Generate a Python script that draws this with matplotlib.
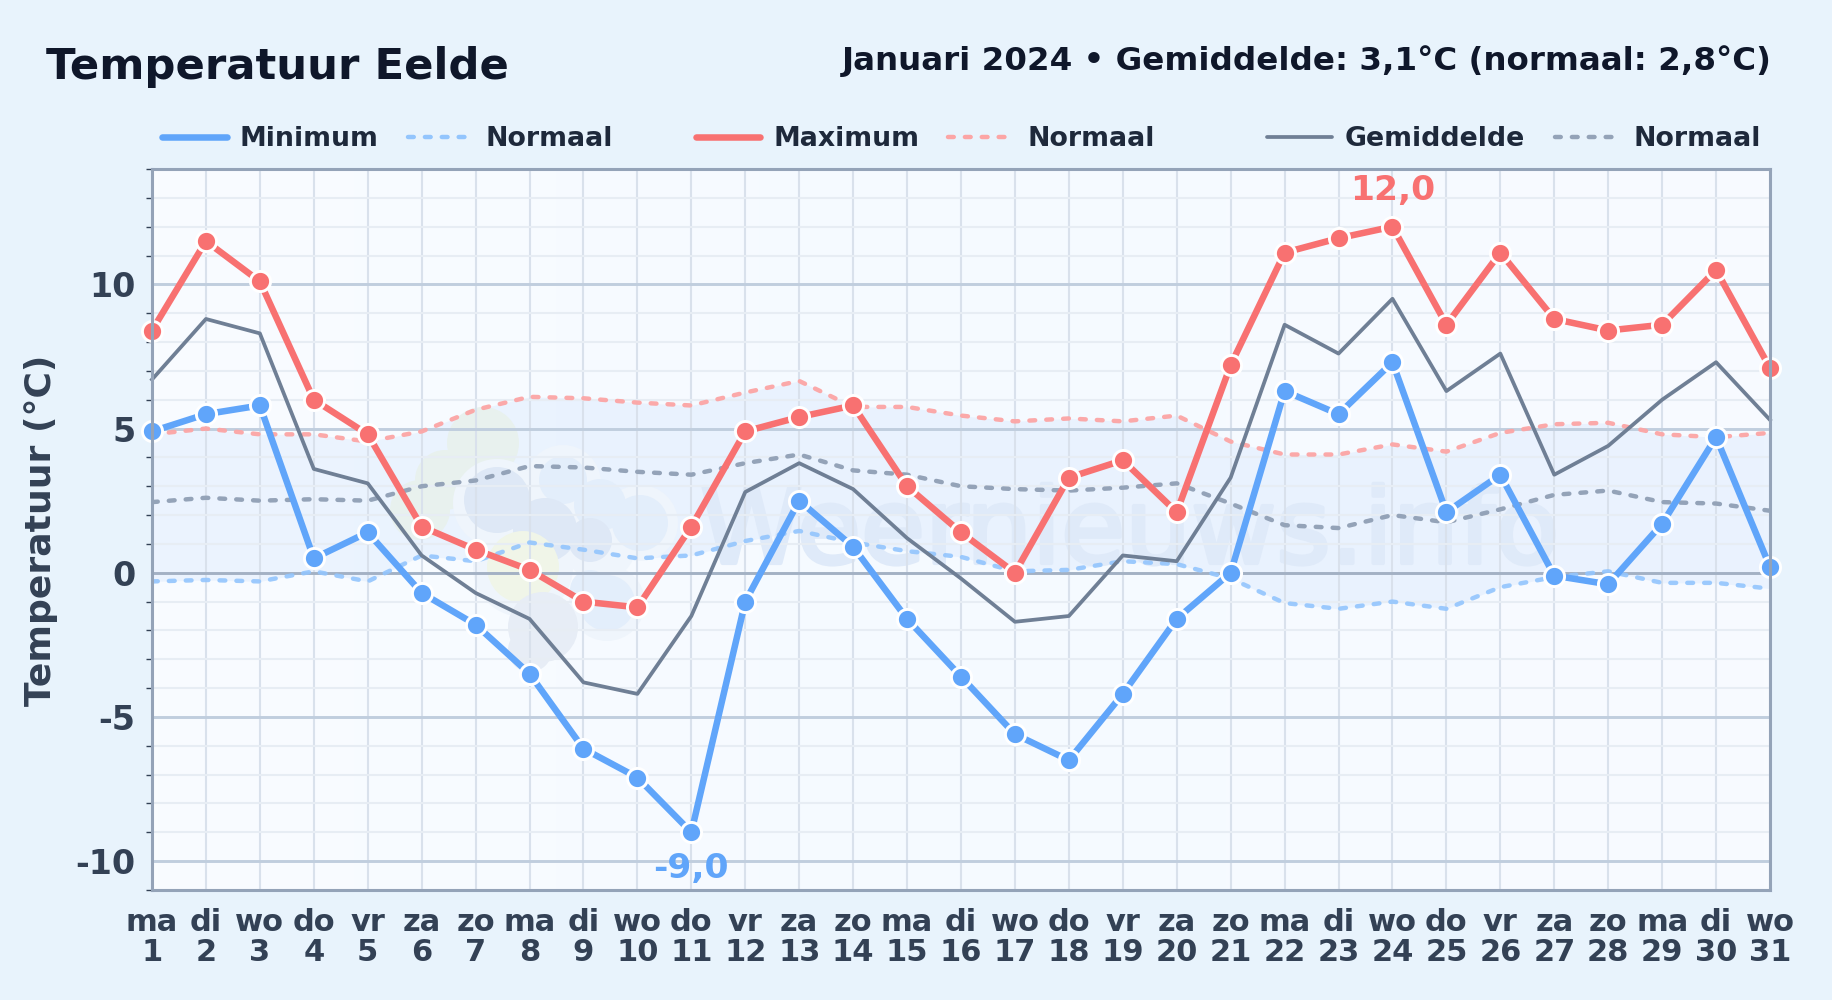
import numpy as np
import matplotlib
matplotlib.use('Agg')
import matplotlib.pyplot as plt
import matplotlib.patheffects as pe
from matplotlib.lines import Line2D
from matplotlib.patches import Circle
from matplotlib.transforms import IdentityTransform

W, H = 1832, 1000

dagen = ['ma', 'di', 'wo', 'do', 'vr', 'za', 'zo'] * 4 + ['ma', 'di', 'wo']
dag_nr = list(range(1, 32))

t_min = [4.9, 5.5, 5.8, 0.5, 1.4, -0.7, -1.8, -3.5, -6.1, -7.1, -9.0, -1.0, 2.5, 0.9, -1.6, -3.6,
         -5.6, -6.5, -4.2, -1.6, 0.0, 6.3, 5.5, 7.3, 2.1, 3.4, -0.1, -0.4, 1.7, 4.7, 0.2]
t_max = [8.4, 11.5, 10.1, 6.0, 4.8, 1.6, 0.8, 0.1, -1.0, -1.2, 1.6, 4.9, 5.4, 5.8, 3.0, 1.4,
         0.0, 3.3, 3.9, 2.1, 7.2, 11.1, 11.6, 12.0, 8.6, 11.1, 8.8, 8.4, 8.6, 10.5, 7.1]
t_gem = [6.7, 8.8, 8.3, 3.6, 3.1, 0.6, -0.7, -1.6, -3.8, -4.2, -1.5, 2.8, 3.8, 2.9, 1.2, -0.2,
         -1.7, -1.5, 0.6, 0.4, 3.3, 8.6, 7.6, 9.5, 6.3, 7.6, 3.4, 4.4, 6.0, 7.3, 5.3]
norm_max = [4.8, 5.0, 4.8, 4.8, 4.55, 4.9, 5.65, 6.1, 6.05, 5.9, 5.8, 6.25, 6.65, 5.75, 5.75, 5.45,
            5.25, 5.35, 5.25, 5.45, 4.55, 4.1, 4.1, 4.45, 4.2, 4.85, 5.15, 5.2, 4.8, 4.7, 4.85]
norm_gem = [2.45, 2.6, 2.5, 2.55, 2.5, 3.0, 3.2, 3.7, 3.65, 3.5, 3.4, 3.8, 4.1, 3.55, 3.4, 3.0,
            2.9, 2.85, 2.95, 3.1, 2.4, 1.65, 1.55, 2.0, 1.75, 2.2, 2.7, 2.85, 2.45, 2.4, 2.15]
norm_min = [-0.3, -0.25, -0.3, 0.05, -0.3, 0.6, 0.4, 1.05, 0.8, 0.5, 0.6, 1.1, 1.45, 1.05, 0.75, 0.55,
            0.05, 0.1, 0.4, 0.3, -0.2, -1.05, -1.25, -1.0, -1.25, -0.5, -0.15, 0.05, -0.35, -0.35, -0.55]

BLAUW = '#60a5fa'
ROOD = '#f87171'
GRIJS = '#6f7f95'
TEKST = '#334155'

plt.rcParams['font.family'] = 'DejaVu Sans'
plt.rcParams['axes.unicode_minus'] = False
fig = plt.figure(figsize=(W / 100, H / 100), dpi=100, facecolor='#e8f3fc')
ax = fig.add_axes([152 / W, 1 - 890 / H, (1770 - 152) / W, (890 - 169) / H])
ax.set_facecolor('#f7fbff')

# achtergrond verloop + band tussen de normalen
grad = np.linspace(0, 1, 256).reshape(1, -1)
ax.imshow(grad, extent=(1, 31, -11, 14), aspect='auto', zorder=0,
          cmap=matplotlib.colors.LinearSegmentedColormap.from_list('bg', ['#f9fcff', '#f5faff', '#f8fbff']))
ax.set_xlim(1, 31)
ax.set_ylim(-11, 14)
ax.fill_between(dag_nr, norm_min, norm_max, color='#c3dafc', alpha=0.24, lw=0, zorder=0.5)

# watermerk
def blob(px, py, r, kleur):
    ax.add_patch(Circle((px, H - py), r, transform=IdentityTransform(), fc=kleur, ec='none', zorder=0.7))

for px, py, r in [(483, 443, 36), (420, 510, 30), (445, 480, 30)]:
    blob(px, py, r, '#e8f1ee')
for px, py, r in [(497, 503, 44), (563, 483, 38), (640, 523, 38), (600, 545, 36), (523, 567, 50), (607, 603, 38)]:
    blob(px, py, r, '#eff5fc')
for px, py, r in [(563, 480, 24), (600, 505, 26), (640, 523, 28), (607, 603, 28), (590, 590, 20)]:
    blob(px, py, r, '#e3eefb')
for px, py, r in [(497, 500, 33), (545, 530, 32), (590, 540, 22)]:
    blob(px, py, r, '#dee8f6')
blob(523, 567, 36, '#f0f5e8')
blob(543, 627, 35, '#e7edf6')
blob(530, 650, 22, '#e7edf6')

ax.text(700, H - 563, 'Weernieuws.info', transform=IdentityTransform(), fontsize=75, color='#dfeaf9',
        ha='left', va='baseline', zorder=0.8, clip_on=True,
        path_effects=[pe.withStroke(linewidth=3, foreground='#dfeaf9')])

# raster
for d in dag_nr:
    ax.axvline(d, color='#d9e1ec', lw=1.5, zorder=1)
for y in range(-11, 15):
    if y % 5 != 0:
        ax.axhline(y, color='#e7edf4', lw=1.5, zorder=1)
for y in (-10, -5, 5, 10):
    ax.axhline(y, color='#c0cede', lw=2.1, zorder=1.1)
ax.axhline(0, color='#a3b1c4', lw=2.1, zorder=1.1)

# lijnen
dash = (0, (1.3, 2.5))
ax.plot(dag_nr, norm_min, color='#93c5fd', lw=3.2, ls=dash, dash_capstyle='round', alpha=0.9, zorder=2)
ax.plot(dag_nr, norm_max, color='#fca5a5', lw=3.2, ls=dash, dash_capstyle='round', alpha=0.95, zorder=2)
ax.plot(dag_nr, norm_gem, color='#94a3b8', lw=3.2, ls=dash, dash_capstyle='round', zorder=2)
ax.plot(dag_nr, t_gem, color=GRIJS, lw=2.7, zorder=3, clip_on=False)
for vals, kleur in ((t_min, BLAUW), (t_max, ROOD)):
    ax.plot(dag_nr, vals, color=kleur, lw=4.7, marker='o', ms=14.5, mfc=kleur, mec='white', mew=2.1,
            zorder=4, clip_on=False)

ax.annotate('12,0', (dag_nr[t_max.index(max(t_max))], max(t_max)), xytext=(0, 14), textcoords='offset points',
            ha='center', va='bottom', fontsize=24.8, fontweight='bold', color=ROOD, zorder=5)
ax.annotate('-9,0', (dag_nr[t_min.index(min(t_min))], min(t_min)), xytext=(0, -14), textcoords='offset points',
            ha='center', va='top', fontsize=24.8, fontweight='bold', color=BLAUW, zorder=5)

# assen
for s in ax.spines.values():
    s.set_color('#94a3b8')
    s.set_linewidth(2.2)
    s.set_zorder(6)
ax.set_xticks(dag_nr)
ax.set_xticklabels([f'{a}\n{b}' for a, b in zip(dagen, dag_nr)], fontsize=22, fontweight='bold',
                   color=TEKST, linespacing=1.06)
ax.tick_params(axis='x', length=0, pad=13)
ax.set_yticks([-10, -5, 0, 5, 10])
ax.set_yticks(range(-11, 15), minor=True)
ax.tick_params(axis='y', which='major', length=0, pad=12, labelsize=24, labelcolor=TEKST)
ax.tick_params(axis='y', which='minor', length=4, width=1, color='#334155')
for lab in ax.get_yticklabels():
    lab.set_fontweight('bold')
fig.text(41 / W, 1 - 530 / H, 'Temperatuur (°C)', rotation=90, ha='center', va='center',
         fontsize=26, fontweight='bold', color=TEKST)

# titels
fig.text(46 / W, 1 - 67 / H, 'Temperatuur Eelde', ha='left', va='center', fontsize=31.2,
         fontweight='bold', color='#0f172a')
fig.text(1772 / W, 1 - 61 / H, 'Januari 2024 • Gemiddelde: 3,1°C (normaal: 2,8°C)', ha='right', va='center',
         fontsize=23.4, fontweight='bold', color='#0f172a')

# legenda
leg_items = [('Minimum', BLAUW, 4.7, '-', 162, 227, 240),
             ('Normaal', '#93c5fd', 3.2, dash, 408, 465, 486),
             ('Maximum', ROOD, 4.7, '-', 696, 760, 773),
             ('Normaal', '#fca5a5', 3.2, dash, 948, 1005, 1027),
             ('Gemiddelde', GRIJS, 2.7, '-', 1267, 1332, 1345),
             ('Normaal', '#94a3b8', 3.2, dash, 1555, 1618, 1634)]
for naam, kleur, lw, ls, x0, x1, xt in leg_items:
    fig.add_artist(Line2D([x0 / W, x1 / W], [1 - 137 / H] * 2, transform=fig.transFigure, color=kleur, lw=lw,
                          ls=ls, dash_capstyle='round', solid_capstyle='round'))
    fig.text(xt / W, 1 - 139 / H, naam, ha='left', va='center', fontsize=19.3, fontweight='bold', color='#1e293b')

fig.savefig('out.png', dpi=100, facecolor=fig.get_facecolor())
